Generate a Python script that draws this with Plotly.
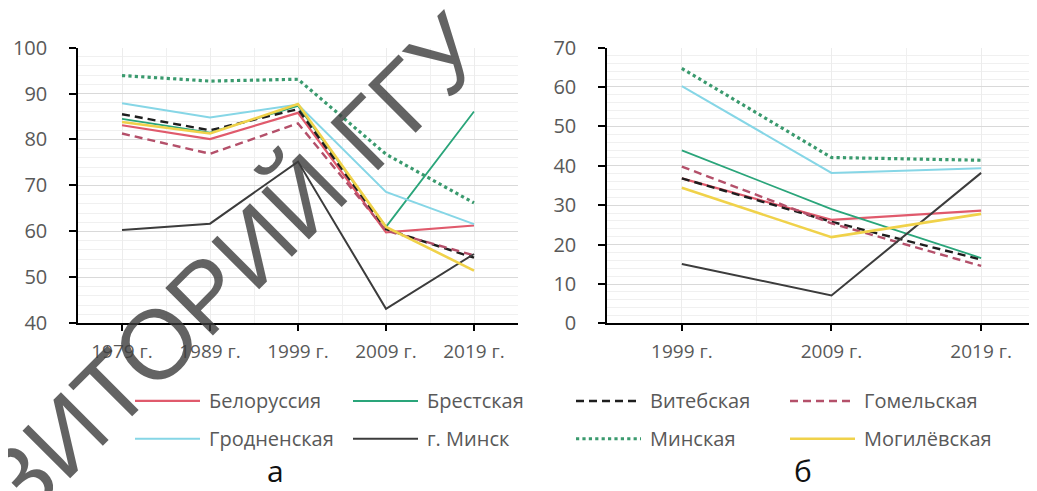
import plotly.graph_objects as go

# ---------------- data ----------------
years_a = ["1979 г.", "1989 г.", "1999 г.", "2009 г.", "2019 г."]
years_b = ["1999 г.", "2009 г.", "2019 г."]

series_names = ["Белоруссия", "Брестская", "Витебская", "Гомельская",
                "Гродненская", "г. Минск", "Минская", "Могилёвская"]

# panel а
a_belarus = [83.1, 80.1, 85.8, 59.8, 61.3]
a_brest = [84.5, 81.5, 87.3, 61.0, 86.1]
a_vitebsk = [85.5, 82.0, 86.6, 60.5, 54.3]
a_gomel = [81.3, 76.9, 83.5, 60.2, 54.8]
a_grodno = [87.9, 84.8, 87.6, 68.6, 61.6]
a_minsk_city = [60.3, 61.7, 75.2, 43.2, 55.1]
a_minsk_reg = [93.9, 92.7, 93.1, 76.8, 66.2]
a_mogilev = [83.8, 81.3, 87.7, 61.0, 51.5]

# panel б
b_belarus = [36.8, 26.3, 28.6]
b_brest = [43.9, 29.0, 16.6]
b_vitebsk = [36.8, 25.8, 16.2]
b_gomel = [39.8, 25.4, 14.6]
b_grodno = [60.2, 38.2, 39.4]
b_minsk_city = [15.1, 7.1, 38.2]
b_minsk_reg = [64.7, 42.1, 41.4]
b_mogilev = [34.4, 21.9, 27.8]

panel_a = [a_belarus, a_brest, a_vitebsk, a_gomel, a_grodno, a_minsk_city, a_minsk_reg, a_mogilev]
panel_b = [b_belarus, b_brest, b_vitebsk, b_gomel, b_grodno, b_minsk_city, b_minsk_reg, b_mogilev]

watermark_text = "РЕПОЗИТОРИЙ ГГУ"

# ---------------- styles ----------------
colors = ["#e05a6c", "#2aa57a", "#1e1e1e", "#b4506a",
          "#86d6e6", "#3c3c3c", "#3a9a6e", "#f0d24a"]
dashes = ["solid", "solid", "8px,5px", "8px,5px", "solid", "solid", "dot", "solid"]
widths = [2.2, 1.8, 2.4, 2.4, 2.0, 2.0, 3.2, 2.6]

FONT = "Open Sans, DejaVu Sans, sans-serif"
GRAY = "#595959"
W, H = 1037, 491

fig = go.Figure()

for i, name in enumerate(series_names):
    fig.add_trace(go.Scatter(
        x=list(range(len(years_a))), y=panel_a[i], name=name, mode="lines",
        line=dict(color=colors[i], width=widths[i], dash=dashes[i]),
        xaxis="x", yaxis="y", showlegend=False,
    ))
for i, name in enumerate(series_names):
    fig.add_trace(go.Scatter(
        x=list(range(len(years_b))), y=panel_b[i], name=name, mode="lines",
        line=dict(color=colors[i], width=widths[i], dash=dashes[i]),
        xaxis="x2", yaxis="y2", showlegend=False,
    ))

ydom = [1 - 319 / H, 1 - 27 / H]

common_x = dict(
    showline=True, linecolor="#000000", linewidth=1.5,
    ticks="outside", ticklen=6, tickwidth=1.5, tickcolor="#000000",
    showgrid=True, gridcolor="#ececec", gridwidth=1,
    zeroline=False, ticklabelstandoff=4,
    tickfont=dict(family=FONT, size=19, color=GRAY),
    minor=dict(dtick=0.5, tick0=-0.5, showgrid=True, gridcolor="#f0f0f0", ticks=""),
)
common_y = dict(
    showline=True, linecolor="#000000", linewidth=1.5,
    ticks="outside", ticklen=7, tickwidth=1.5, tickcolor="#000000",
    showgrid=True, gridcolor="#d9d9d9", gridwidth=1,
    zeroline=False, dtick=10, ticklabelstandoff=18,
    tickfont=dict(family=FONT, size=20, color=GRAY),
    minor=dict(dtick=2, showgrid=True, gridcolor="#f0f0f0", ticks=""),
)

# ---------------- legend (two rows x four columns) ----------------
leg_rows_y = [401, 441]
leg_cols_x = [127, 345, 568, 782]
leg_line_len = 65
shapes = []
annotations = []
for i, name in enumerate(series_names):
    r, c = divmod(i, 4)
    x0 = leg_cols_x[c]
    yy = 1 - leg_rows_y[r] / H
    shapes.append(dict(type="line", xref="paper", yref="paper",
                       x0=x0 / W, x1=(x0 + leg_line_len) / W, y0=yy, y1=yy,
                       line=dict(color=colors[i], width=max(widths[i], 2.0), dash=dashes[i])))
    annotations.append(dict(text=name, x=(x0 + leg_line_len + 7) / W, y=yy,
                            xref="paper", yref="paper", xanchor="left", yanchor="middle",
                            showarrow=False, font=dict(family=FONT, size=20, color=GRAY)))

annotations += [
    dict(text="а", x=267 / W, y=1 - 475 / H, xref="paper", yref="paper",
         xanchor="center", yanchor="middle",
         showarrow=False, font=dict(family=FONT, size=30, color="#111111")),
    dict(text="б", x=795 / W, y=1 - 475 / H, xref="paper", yref="paper",
         xanchor="center", yanchor="middle",
         showarrow=False, font=dict(family=FONT, size=30, color="#111111")),
    dict(text=watermark_text, x=126 / W, y=1 - 363 / H, xref="paper", yref="paper",
         xanchor="center", yanchor="middle", textangle=-45, showarrow=False,
         font=dict(family="Liberation Sans, Arial, sans-serif", size=98,
                   color="rgba(60,60,60,0.8)")),
]

fig.update_layout(
    width=W, height=H,
    margin=dict(l=0, r=0, t=0, b=0),
    paper_bgcolor="white", plot_bgcolor="white",
    font=dict(family=FONT, color=GRAY),
    showlegend=False,
    xaxis=dict(common_x, domain=[70 / W, 510 / W], range=[-0.5, 4.5],
               tickmode="array", tickvals=list(range(len(years_a))), ticktext=years_a,
               anchor="y"),
    yaxis=dict(common_y, domain=ydom, range=[40, 100], anchor="x"),
    xaxis2=dict(common_x, domain=[599 / W, 1030 / W], range=[-0.5, 2.38],
                tickmode="array", tickvals=list(range(len(years_b))), ticktext=years_b,
                anchor="y2"),
    yaxis2=dict(common_y, domain=ydom, range=[0, 70], anchor="x2"),
    shapes=shapes,
    annotations=annotations,
)

fig.write_html("out.html")
